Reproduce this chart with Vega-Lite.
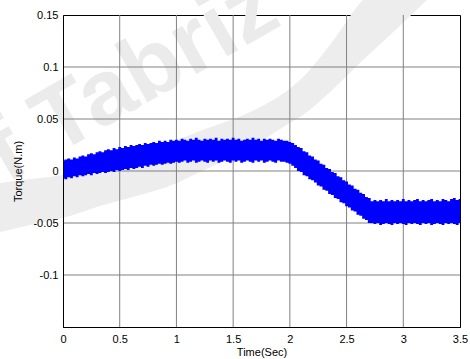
{
  "$schema": "https://vega.github.io/schema/vega-lite/v6.json",
  "autosize": {"type": "none"},
  "padding": {"left": 63, "top": 15, "right": 10, "bottom": 32},
  "width": 397,
  "height": 312,
  "background": "white",
  "config": {
    "view": {"stroke": "black", "strokeWidth": 1},
    "font": "Liberation Sans"
  },
  "datasets": {
    "wm": [{"t": 0.6, "v": 0.088, "label": "f Tabriz"}],
    "swoosh": [
      {"t": -0.555, "up": -0.0115, "dn": -0.0587},
      {"t": -0.291, "up": -0.0077, "dn": -0.0519},
      {"t": 0.000, "up": -0.0038, "dn": -0.0452},
      {"t": 0.326, "up": 0.0058, "dn": -0.0337},
      {"t": 0.617, "up": 0.0154, "dn": -0.0250},
      {"t": 1.005, "up": 0.0298, "dn": -0.0115},
      {"t": 1.208, "up": 0.0385, "dn": -0.0010},
      {"t": 1.649, "up": 0.0567, "dn": 0.0221},
      {"t": 1.984, "up": 0.0779, "dn": 0.0452},
      {"t": 2.089, "up": 0.0875, "dn": 0.0519},
      {"t": 2.354, "up": 0.1212, "dn": 0.0760},
      {"t": 2.645, "up": 0.1644, "dn": 0.1067},
      {"t": 2.883, "up": 0.1837, "dn": 0.1308},
      {"t": 3.209, "up": 0.1837, "dn": 0.1644}
    ],
    "vgrid": [{"t": 0.5}, {"t": 1}, {"t": 1.5}, {"t": 2}, {"t": 2.5}, {"t": 3}],
    "hgrid": [{"v": 0.1}, {"v": 0.05}, {"v": 0}, {"v": -0.05}, {"v": -0.1}],
    "torque": [
      {"t":0.000,"lo":-0.007,"hi":0.010},{"t":0.025,"lo":-0.008,"hi":0.011},{"t":0.050,"lo":-0.006,"hi":0.012},{"t":0.075,"lo":-0.007,"hi":0.011},
      {"t":0.100,"lo":-0.005,"hi":0.013},{"t":0.125,"lo":-0.006,"hi":0.012},{"t":0.150,"lo":-0.004,"hi":0.014},{"t":0.175,"lo":-0.005,"hi":0.015},
      {"t":0.200,"lo":-0.004,"hi":0.014},{"t":0.225,"lo":-0.003,"hi":0.016},{"t":0.250,"lo":-0.004,"hi":0.017},{"t":0.275,"lo":-0.002,"hi":0.016},
      {"t":0.300,"lo":-0.003,"hi":0.018},{"t":0.325,"lo":-0.002,"hi":0.019},{"t":0.350,"lo":-0.001,"hi":0.018},{"t":0.375,"lo":-0.002,"hi":0.020},
      {"t":0.400,"lo":-0.001,"hi":0.021},{"t":0.425,"lo":0.000,"hi":0.020},{"t":0.450,"lo":-0.001,"hi":0.022},{"t":0.475,"lo":0.001,"hi":0.021},
      {"t":0.500,"lo":0.000,"hi":0.023},{"t":0.525,"lo":0.001,"hi":0.022},{"t":0.550,"lo":0.002,"hi":0.024},{"t":0.575,"lo":0.001,"hi":0.023},
      {"t":0.600,"lo":0.003,"hi":0.025},{"t":0.625,"lo":0.002,"hi":0.024},{"t":0.650,"lo":0.003,"hi":0.025},{"t":0.675,"lo":0.004,"hi":0.026},
      {"t":0.700,"lo":0.003,"hi":0.025},{"t":0.725,"lo":0.005,"hi":0.027},{"t":0.750,"lo":0.004,"hi":0.026},{"t":0.775,"lo":0.006,"hi":0.027},
      {"t":0.800,"lo":0.005,"hi":0.028},{"t":0.825,"lo":0.006,"hi":0.027},{"t":0.850,"lo":0.007,"hi":0.029},{"t":0.875,"lo":0.006,"hi":0.028},
      {"t":0.900,"lo":0.007,"hi":0.029},{"t":0.925,"lo":0.008,"hi":0.028},{"t":0.950,"lo":0.007,"hi":0.030},{"t":0.975,"lo":0.008,"hi":0.029},
      {"t":1.000,"lo":0.009,"hi":0.030},{"t":1.025,"lo":0.008,"hi":0.029},{"t":1.050,"lo":0.009,"hi":0.031},{"t":1.075,"lo":0.010,"hi":0.030},
      {"t":1.100,"lo":0.008,"hi":0.029},{"t":1.125,"lo":0.009,"hi":0.031},{"t":1.150,"lo":0.010,"hi":0.030},{"t":1.175,"lo":0.008,"hi":0.032},
      {"t":1.200,"lo":0.009,"hi":0.030},{"t":1.225,"lo":0.010,"hi":0.029},{"t":1.250,"lo":0.009,"hi":0.031},{"t":1.275,"lo":0.008,"hi":0.030},
      {"t":1.300,"lo":0.010,"hi":0.031},{"t":1.325,"lo":0.009,"hi":0.030},{"t":1.350,"lo":0.010,"hi":0.032},{"t":1.375,"lo":0.008,"hi":0.029},
      {"t":1.400,"lo":0.009,"hi":0.031},{"t":1.425,"lo":0.010,"hi":0.030},{"t":1.450,"lo":0.009,"hi":0.031},{"t":1.475,"lo":0.008,"hi":0.030},
      {"t":1.500,"lo":0.010,"hi":0.032},{"t":1.525,"lo":0.009,"hi":0.030},{"t":1.550,"lo":0.010,"hi":0.031},{"t":1.575,"lo":0.008,"hi":0.029},
      {"t":1.600,"lo":0.009,"hi":0.030},{"t":1.625,"lo":0.010,"hi":0.031},{"t":1.650,"lo":0.009,"hi":0.030},{"t":1.675,"lo":0.008,"hi":0.032},
      {"t":1.700,"lo":0.010,"hi":0.030},{"t":1.725,"lo":0.009,"hi":0.031},{"t":1.750,"lo":0.010,"hi":0.029},{"t":1.775,"lo":0.008,"hi":0.031},
      {"t":1.800,"lo":0.009,"hi":0.030},{"t":1.825,"lo":0.010,"hi":0.031},{"t":1.850,"lo":0.009,"hi":0.030},{"t":1.875,"lo":0.008,"hi":0.029},
      {"t":1.900,"lo":0.010,"hi":0.031},{"t":1.925,"lo":0.009,"hi":0.030},{"t":1.950,"lo":0.009,"hi":0.029},{"t":1.975,"lo":0.008,"hi":0.029},
      {"t":2.000,"lo":0.007,"hi":0.028},{"t":2.025,"lo":0.005,"hi":0.027},{"t":2.050,"lo":0.003,"hi":0.025},{"t":2.075,"lo":0.000,"hi":0.023},
      {"t":2.100,"lo":-0.001,"hi":0.022},{"t":2.125,"lo":-0.004,"hi":0.019},{"t":2.150,"lo":-0.005,"hi":0.018},{"t":2.175,"lo":-0.008,"hi":0.015},
      {"t":2.200,"lo":-0.009,"hi":0.014},{"t":2.225,"lo":-0.011,"hi":0.011},{"t":2.250,"lo":-0.014,"hi":0.010},{"t":2.275,"lo":-0.015,"hi":0.007},
      {"t":2.300,"lo":-0.018,"hi":0.006},{"t":2.325,"lo":-0.019,"hi":0.003},{"t":2.350,"lo":-0.022,"hi":0.002},{"t":2.375,"lo":-0.023,"hi":-0.001},
      {"t":2.400,"lo":-0.026,"hi":-0.002},{"t":2.425,"lo":-0.027,"hi":-0.005},{"t":2.450,"lo":-0.030,"hi":-0.006},{"t":2.475,"lo":-0.031,"hi":-0.009},
      {"t":2.500,"lo":-0.034,"hi":-0.010},{"t":2.525,"lo":-0.035,"hi":-0.013},{"t":2.550,"lo":-0.038,"hi":-0.014},{"t":2.575,"lo":-0.039,"hi":-0.017},
      {"t":2.600,"lo":-0.042,"hi":-0.018},{"t":2.625,"lo":-0.043,"hi":-0.021},{"t":2.650,"lo":-0.046,"hi":-0.022},{"t":2.675,"lo":-0.047,"hi":-0.025},
      {"t":2.700,"lo":-0.050,"hi":-0.026},{"t":2.725,"lo":-0.050,"hi":-0.029},{"t":2.750,"lo":-0.051,"hi":-0.028},{"t":2.775,"lo":-0.050,"hi":-0.029},
      {"t":2.800,"lo":-0.052,"hi":-0.028},{"t":2.825,"lo":-0.051,"hi":-0.029},{"t":2.850,"lo":-0.050,"hi":-0.027},{"t":2.875,"lo":-0.051,"hi":-0.029},
      {"t":2.900,"lo":-0.052,"hi":-0.028},{"t":2.925,"lo":-0.050,"hi":-0.029},{"t":2.950,"lo":-0.051,"hi":-0.028},{"t":2.975,"lo":-0.050,"hi":-0.029},
      {"t":3.000,"lo":-0.051,"hi":-0.027},{"t":3.025,"lo":-0.052,"hi":-0.029},{"t":3.050,"lo":-0.050,"hi":-0.028},{"t":3.075,"lo":-0.051,"hi":-0.029},
      {"t":3.100,"lo":-0.050,"hi":-0.028},{"t":3.125,"lo":-0.051,"hi":-0.027},{"t":3.150,"lo":-0.052,"hi":-0.029},{"t":3.175,"lo":-0.050,"hi":-0.028},
      {"t":3.200,"lo":-0.051,"hi":-0.029},{"t":3.225,"lo":-0.050,"hi":-0.028},{"t":3.250,"lo":-0.052,"hi":-0.027},{"t":3.275,"lo":-0.051,"hi":-0.029},
      {"t":3.300,"lo":-0.050,"hi":-0.028},{"t":3.325,"lo":-0.051,"hi":-0.029},{"t":3.350,"lo":-0.052,"hi":-0.027},{"t":3.375,"lo":-0.050,"hi":-0.028},
      {"t":3.400,"lo":-0.051,"hi":-0.029},{"t":3.425,"lo":-0.050,"hi":-0.027},{"t":3.450,"lo":-0.051,"hi":-0.026},{"t":3.475,"lo":-0.052,"hi":-0.028},
      {"t":3.500,"lo":-0.050,"hi":-0.027}
    ]
  },
  "layer": [
    {
      "data": {"name": "swoosh"},
      "mark": {"type": "area", "color": "#ededed", "interpolate": "monotone", "clip": false},
      "encoding": {
        "x": {
          "field": "t", "type": "quantitative",
          "scale": {"domain": [0, 3.5], "nice": false, "zero": false},
          "axis": {
            "values": [0, 0.5, 1, 1.5, 2, 2.5, 3, 3.5],
            "labelExpr": "'' + datum.value",
            "title": "Time(Sec)",
            "grid": false, "zindex": 1, "labelFlush": false, "labelOverlap": false,
            "domainColor": "black", "ticks": false, "labelPadding": 6,
            "labelFont": "Liberation Sans", "labelFontSize": 11, "labelColor": "black",
            "titleFont": "Liberation Sans", "titleFontSize": 11, "titleFontWeight": "normal", "titleColor": "black", "titlePadding": 2
          }
        },
        "y": {
          "field": "up", "type": "quantitative",
          "scale": {"domain": [-0.15, 0.15], "nice": false, "zero": false},
          "axis": {
            "values": [0.15, 0.1, 0.05, 0, -0.05, -0.1, -0.15],
            "labelExpr": "datum.value < -0.12 ? '' : '' + datum.value",
            "title": "Torque(N.m)",
            "grid": false, "zindex": 1, "labelFlush": false, "labelOverlap": false,
            "domainColor": "black", "ticks": false, "labelPadding": 5,
            "labelFont": "Liberation Sans", "labelFontSize": 11, "labelColor": "black",
            "titleFont": "Liberation Sans", "titleFontSize": 11, "titleFontWeight": "normal", "titleColor": "black", "titlePadding": 9
          }
        },
        "y2": {"field": "dn"}
      }
    },
    {
      "data": {"name": "wm"},
      "mark": {"type": "text", "fontSize": 92, "fontWeight": "bold", "font": "Liberation Sans", "angle": -30, "color": "#ebebeb", "align": "center", "baseline": "middle"},
      "encoding": {
        "x": {"field": "t", "type": "quantitative"},
        "y": {"field": "v", "type": "quantitative"},
        "text": {"field": "label"}
      }
    },
    {
      "data": {"name": "vgrid"},
      "mark": {"type": "rule", "color": "#808080", "strokeWidth": 1},
      "encoding": {"x": {"field": "t", "type": "quantitative"}}
    },
    {
      "data": {"name": "hgrid"},
      "mark": {"type": "rule", "color": "#808080", "strokeWidth": 1},
      "encoding": {"y": {"field": "v", "type": "quantitative"}}
    },
    {
      "data": {"name": "torque"},
      "mark": {"type": "area", "color": "#0000ff", "interpolate": "step", "clip": true},
      "encoding": {
        "x": {"field": "t", "type": "quantitative"},
        "y": {"field": "hi", "type": "quantitative"},
        "y2": {"field": "lo"}
      }
    }
  ]
}
